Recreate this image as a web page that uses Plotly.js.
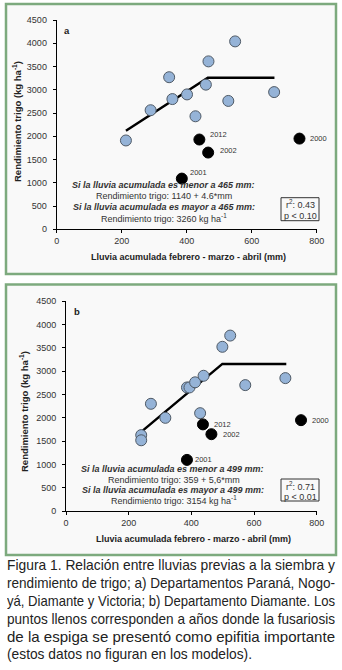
<!DOCTYPE html>
<html>
<head>
<meta charset="utf-8">
<script src="https://cdn.plot.ly/plotly-3.0.1.min.js"></script>
<style>
  html, body { margin: 0; padding: 0; background: #ffffff; }
  #wrap { position: relative; width: 342px; height: 670px; overflow: hidden; }
  #chart { position: absolute; left: 0; top: 0; width: 342px; height: 670px; }
  #caption { position: absolute; left: 7px; top: 556px; width: 329px;
    font-family: "Liberation Sans", Arial, sans-serif;
    font-size: 15px; line-height: 17.9px; color: #222; }
  #caption div { height: 17.9px; white-space: nowrap; }
  #caption span { display: inline-block; white-space: nowrap; transform-origin: 0 50%; }
</style>
</head>
<body>
<div id="wrap">
<div id="chart"></div>
<div id="caption">
  <div><span data-w="328">Figura 1. Relación entre lluvias previas a la siembra y</span></div>
  <div><span data-w="328">rendimiento de trigo; a) Departamentos Paraná, Nogo-</span></div>
  <div><span data-w="328">yá, Diamante y Victoria; b) Departamento Diamante. Los</span></div>
  <div><span data-w="328">puntos llenos corresponden a años donde la fusariosis</span></div>
  <div><span data-w="328">de la espiga se presentó como epifitia importante</span></div>
  <div><span data-w="245">(estos datos no figuran en los modelos).</span></div>
</div>
</div>
<script>
// ---------- DATA ----------
// Panel a: Departamentos Paraná, Nogoyá, Diamante y Victoria
const aOpenX = [213, 289, 346, 356, 401, 427, 459, 467, 528, 549, 669];
const aOpenY = [1910, 2560, 3270, 2800, 2900, 2430, 3110, 3610, 2760, 4040, 2950];
const aFullX = [439, 466, 385, 747];
const aFullY = [1930, 1650, 1090, 1950];
const aFullYears = ["2012", "2002", "2001", "2000"];
const aLineX = [213, 465, 670];
const aLineY = [2120, 3260, 3260];

// Panel b: Departamento Diamante
const bOpenX = [240, 240, 271, 317, 386, 394, 412, 428, 439, 499, 524, 572, 700];
const bOpenY = [1630, 1520, 2300, 2000, 2650, 2650, 2760, 2100, 2900, 3520, 3760, 2700, 2850];
const bFullX = [437, 464, 386, 750];
const bFullY = [1860, 1650, 1100, 1950];
const bFullYears = ["2012", "2002", "2001", "2000"];
const bLineX = [240, 499, 703];
const bLineY = [1700, 3154, 3154];

const xTicks = [0, 200, 400, 600, 800];
const yTicks = [0, 500, 1000, 1500, 2000, 2500, 3000, 3500, 4000, 4500];

// ---------- LAYOUT HELPERS ----------
const W = 342, H = 670;
const px = v => v / W;
const py = v => 1 - v / H;
const FONT = "Liberation Sans, Arial, sans-serif";
const openMarker = {size: 11, color: "#95b3d7", line: {color: "#4f5a66", width: 1}};
const fullMarker = {size: 11, color: "#000000", line: {color: "#000000", width: 1}};

const traces = [
  {x: aLineX, y: aLineY, xaxis: "x", yaxis: "y", mode: "lines", line: {color: "#000", width: 2.5}, hoverinfo: "skip"},
  {x: aOpenX, y: aOpenY, xaxis: "x", yaxis: "y", mode: "markers", marker: openMarker},
  {x: aFullX, y: aFullY, xaxis: "x", yaxis: "y", mode: "markers", marker: fullMarker},
  {x: bLineX, y: bLineY, xaxis: "x2", yaxis: "y2", mode: "lines", line: {color: "#000", width: 2.5}, hoverinfo: "skip"},
  {x: bOpenX, y: bOpenY, xaxis: "x2", yaxis: "y2", mode: "markers", marker: openMarker},
  {x: bFullX, y: bFullY, xaxis: "x2", yaxis: "y2", mode: "markers", marker: fullMarker}
];

function axisX(domain, anchor) {
  return {domain: domain, anchor: anchor, range: [0, 800], tickvals: xTicks, ticktext: xTicks.map(String),
    showgrid: false, zeroline: false, showline: true, linecolor: "#000", linewidth: 1,
    ticks: "outside", ticklen: 3, tickcolor: "#000", tickfont: {family: FONT, size: 9, color: "#333"}, fixedrange: true};
}
function axisY(domain, anchor) {
  return {domain: domain, anchor: anchor, range: [0, 4500], tickvals: yTicks, ticktext: yTicks.map(String),
    showgrid: false, zeroline: false, showline: true, linecolor: "#000", linewidth: 1,
    ticks: "outside", ticklen: 3, tickcolor: "#000", ticklabelstandoff: 4,
    tickfont: {family: FONT, size: 9, color: "#333"}, fixedrange: true};
}

const ann = [];
function txt(x, y, text, opts) {
  ann.push(Object.assign({xref: "paper", yref: "paper", x: px(x), y: py(y), text: text, showarrow: false,
    xanchor: "center", yanchor: "middle", font: {family: FONT, size: 9, color: "#333"}}, opts || {}));
}
function yearLabels(xs, ys, labels, xa, ya, shifts) {
  labels.forEach((t, i) => ann.push({xref: xa, yref: ya, x: xs[i], y: ys[i], text: t, showarrow: false,
    xanchor: "left", yanchor: "middle", xshift: shifts[i][0], yshift: shifts[i][1],
    font: {family: FONT, size: 7.5, color: "#333"}}));
}

// Panel a texts
txt(67, 31, "<b>a</b>", {font: {family: FONT, size: 9.5, color: "#222"}});
txt(17, 122, "<b>Rendimiento trigo (kg ha<sup>-1</sup>)</b>", {textangle: -90, font: {family: FONT, size: 9.5, color: "#222"}});
txt(188, 257.5, "<b>Lluvia acumulada febrero - marzo - abril (mm)</b>", {font: {family: FONT, size: 9, color: "#222"}});
txt(163.5, 185.5, "<b><i>Si la lluvia acumulada es menor a 465 mm:</i></b>");
txt(164, 196.2, "Rendimiento trigo: 1140 + 4.6*mm");
txt(163.5, 207.3, "<b><i>Si la lluvia acumulada es mayor a 465 mm:</i></b>");
txt(164, 218.3, "Rendimiento trigo: 3260 kg ha<sup>-1</sup>");
txt(300, 204.5, "r<sup>2</sup>: 0.43");
txt(300, 215.5, "p < 0.10");
yearLabels(aFullX, aFullY, aFullYears, "x", "y", [[9, 5], [10, 2], [6, 6], [9, 0]]);

// Panel b texts
txt(77, 312, "<b>b</b>", {font: {family: FONT, size: 9.5, color: "#222"}});
txt(24, 412, "<b>Rendimiento trigo (kg ha<sup>-1</sup>)</b>", {textangle: -90, font: {family: FONT, size: 9.5, color: "#222"}});
txt(193, 539.3, "<b>Lluvia acumulada febrero - marzo - abril (mm)</b>", {font: {family: FONT, size: 9, color: "#222"}});
txt(172.5, 469, "<b><i>Si la lluvia acumulada es menor a 499 mm:</i></b>");
txt(173.5, 479.5, "Rendimiento trigo: 359 + 5,6*mm");
txt(172.5, 490, "<b><i>Si la lluvia acumulada es mayor a 499 mm:</i></b>");
txt(174, 500.3, "Rendimiento trigo: 3154 kg ha<sup>-1</sup>");
txt(300, 485.5, "r<sup>2</sup>: 0.71");
txt(300, 496.5, "p < 0.01");
yearLabels(bFullX, bFullY, bFullYears, "x2", "y2", [[9, 0], [10, 0], [6, 0], [9, 0]]);

const shapes = [
  {type: "rect", xref: "paper", yref: "paper", x0: px(6), x1: px(336), y0: py(4), y1: py(274),
    line: {color: "#7daa7e", width: 2.5}, fillcolor: "#f9f9f9", layer: "below"},
  {type: "rect", xref: "paper", yref: "paper", x0: px(6), x1: px(336), y0: py(284.5), y1: py(555),
    line: {color: "#7daa7e", width: 2.5}, fillcolor: "#f9f9f9", layer: "below"},
  {type: "rect", xref: "paper", yref: "paper", x0: px(281), x1: px(319), y0: py(197.7), y1: py(220.7),
    line: {color: "#333", width: 1}, fillcolor: "rgba(0,0,0,0)"},
  {type: "rect", xref: "paper", yref: "paper", x0: px(281), x1: px(319), y0: py(479), y1: py(501),
    line: {color: "#333", width: 1}, fillcolor: "rgba(0,0,0,0)"}
];

const layout = {
  width: W, height: H, margin: {l: 0, r: 0, t: 0, b: 0},
  paper_bgcolor: "#ffffff", plot_bgcolor: "rgba(0,0,0,0)", showlegend: false,
  xaxis: axisX([px(56.7), px(316.7)], "y"),
  yaxis: axisY([py(229.3), py(20)], "x"),
  xaxis2: axisX([px(66), px(316.7)], "y2"),
  yaxis2: axisY([py(511.3), py(301)], "x2"),
  annotations: ann, shapes: shapes
};

Plotly.newPlot("chart", traces, layout, {displayModeBar: false, staticPlot: true});

// Fit caption lines to the widths of the printed (condensed, justified) caption
function fitCaption() {
  document.querySelectorAll("#caption span").forEach(s => {
    s.style.transform = "none";
    const w = s.getBoundingClientRect().width;
    const target = parseFloat(s.getAttribute("data-w"));
    if (w > 0) s.style.transform = "scaleX(" + (target / w) + ")";
  });
}
fitCaption();
if (document.fonts && document.fonts.ready) document.fonts.ready.then(fitCaption);
</script>
</body>
</html>
